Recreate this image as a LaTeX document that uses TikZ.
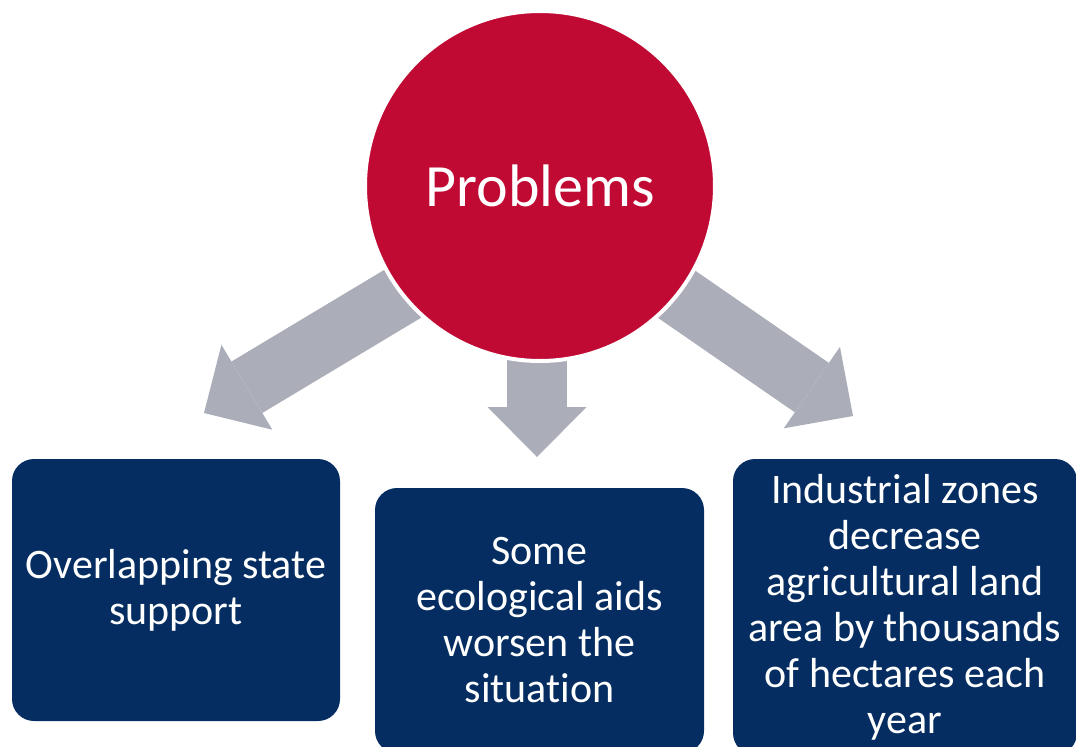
\documentclass[tikz,border=0pt]{standalone}
\usepackage{fontspec}
\setmainfont{Carlito}[Ligatures=NoCommon]
\usetikzlibrary{arrows.meta}

\definecolor{probred}{RGB}{192,10,52}
\definecolor{boxnavy}{RGB}{5,45,97}
\definecolor{arrowgray}{RGB}{171,174,185}

\tikzset{every picture/.style={line width=0.75pt}}
\tikzset{
  bigarrow/.style={draw=arrowgray, line width=45pt,
    -{Triangle[length=37.5pt,width=74.25pt,line width=0pt]}},
  probnode/.style={circle, fill=probred, draw=white, line width=3pt,
    minimum size=262.5pt, inner sep=0pt, text=white,
    font=\fontsize{45}{54}\selectfont},
  issuebox/.style={rectangle, rounded corners=16.5pt, fill=boxnavy,
    text=white, align=center, inner sep=0pt,
    font=\fontsize{31.5}{34.5}\selectfont}
}

\begin{document}
\begin{tikzpicture}[x=0.75pt,y=0.75pt,yscale=-1,xscale=1]
\useasboundingbox (0,0) rectangle (1076,747);

% Arrow ends
\coordinate (tailL) at (444,269);
\coordinate (tipL) at (204,413);
\coordinate (tailM) at (537,300);
\coordinate (tipM) at (537,457);
\coordinate (tailR) at (622.6,257);
\coordinate (tipR) at (853,416);

% Connection
\draw [bigarrow] (tailL) -- (tipL);
% Connection
\draw [bigarrow] (tailM) -- (tipM);
% Connection
\draw [bigarrow] (tailR) -- (tipR);

% Text Node
\node [probnode] (prob) at (540,186) {Problems};

% Text Node
\node [issuebox, minimum width=246pt, minimum height=196.5pt] (state) at (176,590)
  {Overlapping state\\support};
% Text Node
\node [issuebox, minimum width=246.75pt, minimum height=198.75pt] (aids) at (539.5,620.5)
  {Some\\ecological aids\\worsen the\\situation};
% Text Node
\node [issuebox, minimum width=258pt, minimum height=222pt] (zones) at (905,607)
  {Industrial zones\\decrease\\agricultural land\\area by thousands\\of hectares each\\year};

\end{tikzpicture}
\end{document}
